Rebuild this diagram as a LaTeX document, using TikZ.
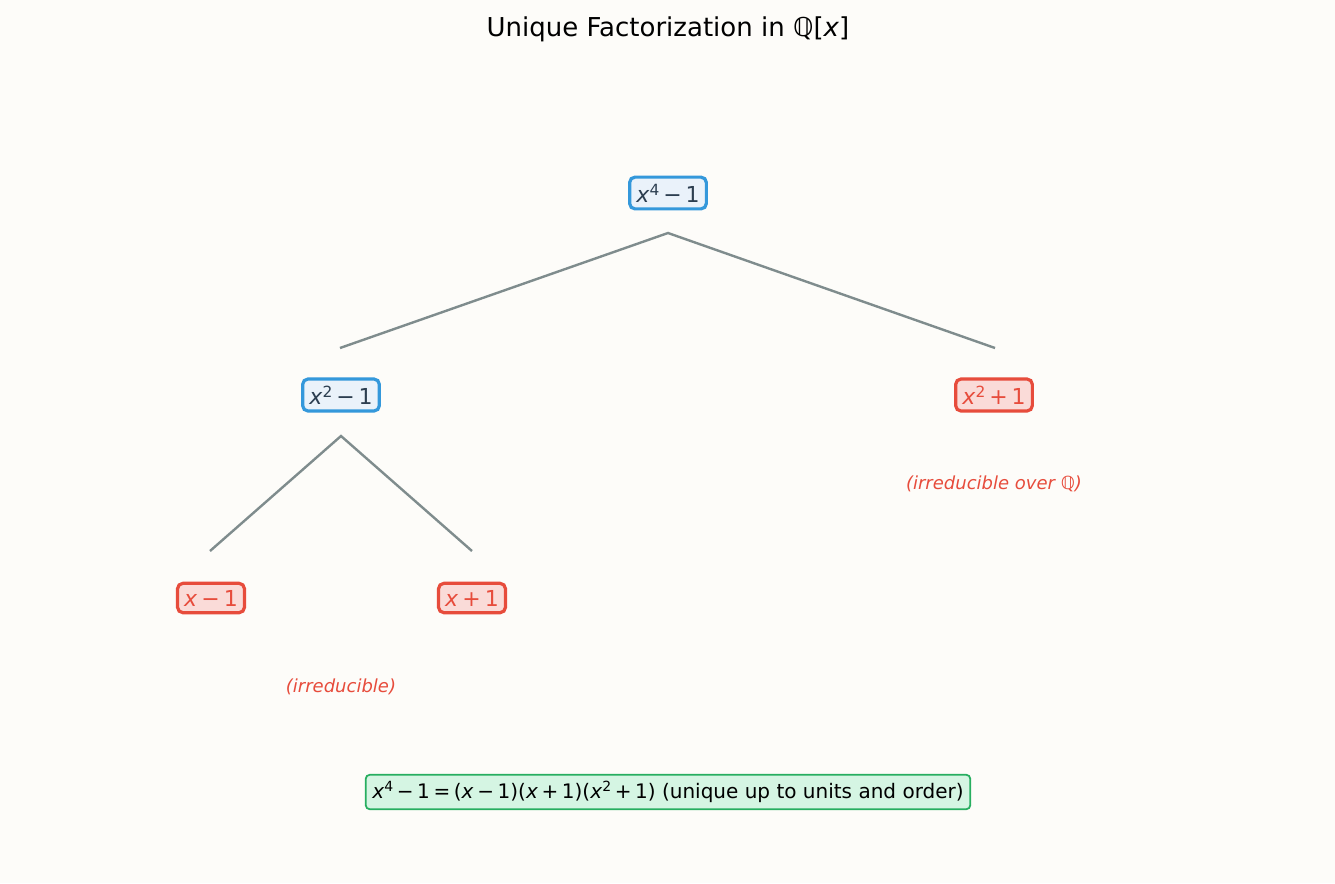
\documentclass[tikz,border=0pt]{standalone}
\usepackage{fontspec}
\setmainfont{DejaVu Sans}
\definecolor{bg}{HTML}{FDFCF9}
\definecolor{dark}{HTML}{2C3E50}
\definecolor{bluef}{HTML}{EAF2FA}
\definecolor{blueb}{HTML}{3498DB}
\definecolor{redf}{HTML}{FADBD8}
\definecolor{redb}{HTML}{E74C3C}
\definecolor{greenf}{HTML}{D5F5E3}
\definecolor{greenb}{HTML}{27AE60}
\definecolor{edge}{HTML}{7F8C8D}
\newcommand{\vx}{\textit{x}}
\newcommand{\sq}[1]{\raisebox{0.6ex}{\fontsize{0.7\dimexpr\fontdimen6\font\relax}{1}\selectfont #1}}
\newcommand{\op}[1]{\hspace{0.18em}#1\hspace{0.18em}}
\begin{document}
\begin{tikzpicture}[x=0.75pt,y=-0.75pt,
  bluebox/.style={draw=blueb,fill=bluef,line width=2.4pt,rounded corners=4pt,text=dark,font=\fontsize{16.5}{16.5}\selectfont,inner sep=5pt},
  redbox/.style={draw=redb,fill=redf,line width=2.4pt,rounded corners=4pt,text=redb,font=\fontsize{16.5}{16.5}\selectfont,inner sep=5pt},
  note/.style={text=redb,font=\fontsize{13.5}{13.5}\selectfont\itshape},
  link/.style={draw=edge,line width=1.8pt}]
\fill[bg] (0,0) rectangle (1335,883);
\node (title) at (668,29) {\fontsize{19.5}{19.5}\selectfont Unique Factorization in ℚ[\vx]};
\node[bluebox] (r) at (668,193) {\vx\sq{4}\op{−}1};
\node[bluebox] (a) at (341,395) {\vx\sq{2}\op{−}1};
\node[redbox] (b) at (994,395) {\vx\sq{2}\op{+}1};
\node[redbox] (c) at (211,598) {\vx\op{−}1};
\node[redbox] (d) at (472,598) {\vx\op{+}1};
\coordinate (rs) at (668,233);
\coordinate (ae) at (340,348);
\coordinate (be) at (995,348);
\coordinate (as) at (341,436);
\coordinate (ce) at (210,551);
\coordinate (de) at (472,551);
\draw[link] (ae) -- (rs) -- (be);
\draw[link] (ce) -- (as) -- (de);
\node[note] (n1) at (994,484) {(irreducible over ℚ)};
\node[note] (n2) at (341,687) {(irreducible)};
\node[draw=greenb,fill=greenf,line width=1.3pt,rounded corners=3pt,inner sep=5pt,font=\fontsize{15}{15}\selectfont] (eq) at (668,792)
 {\vx\sq{4}\op{−}1\op{=}(\vx\op{−}1)(\vx\op{+}1)(\vx\sq{2}\op{+}1) (unique up to units and order)};
\end{tikzpicture}
\end{document}
